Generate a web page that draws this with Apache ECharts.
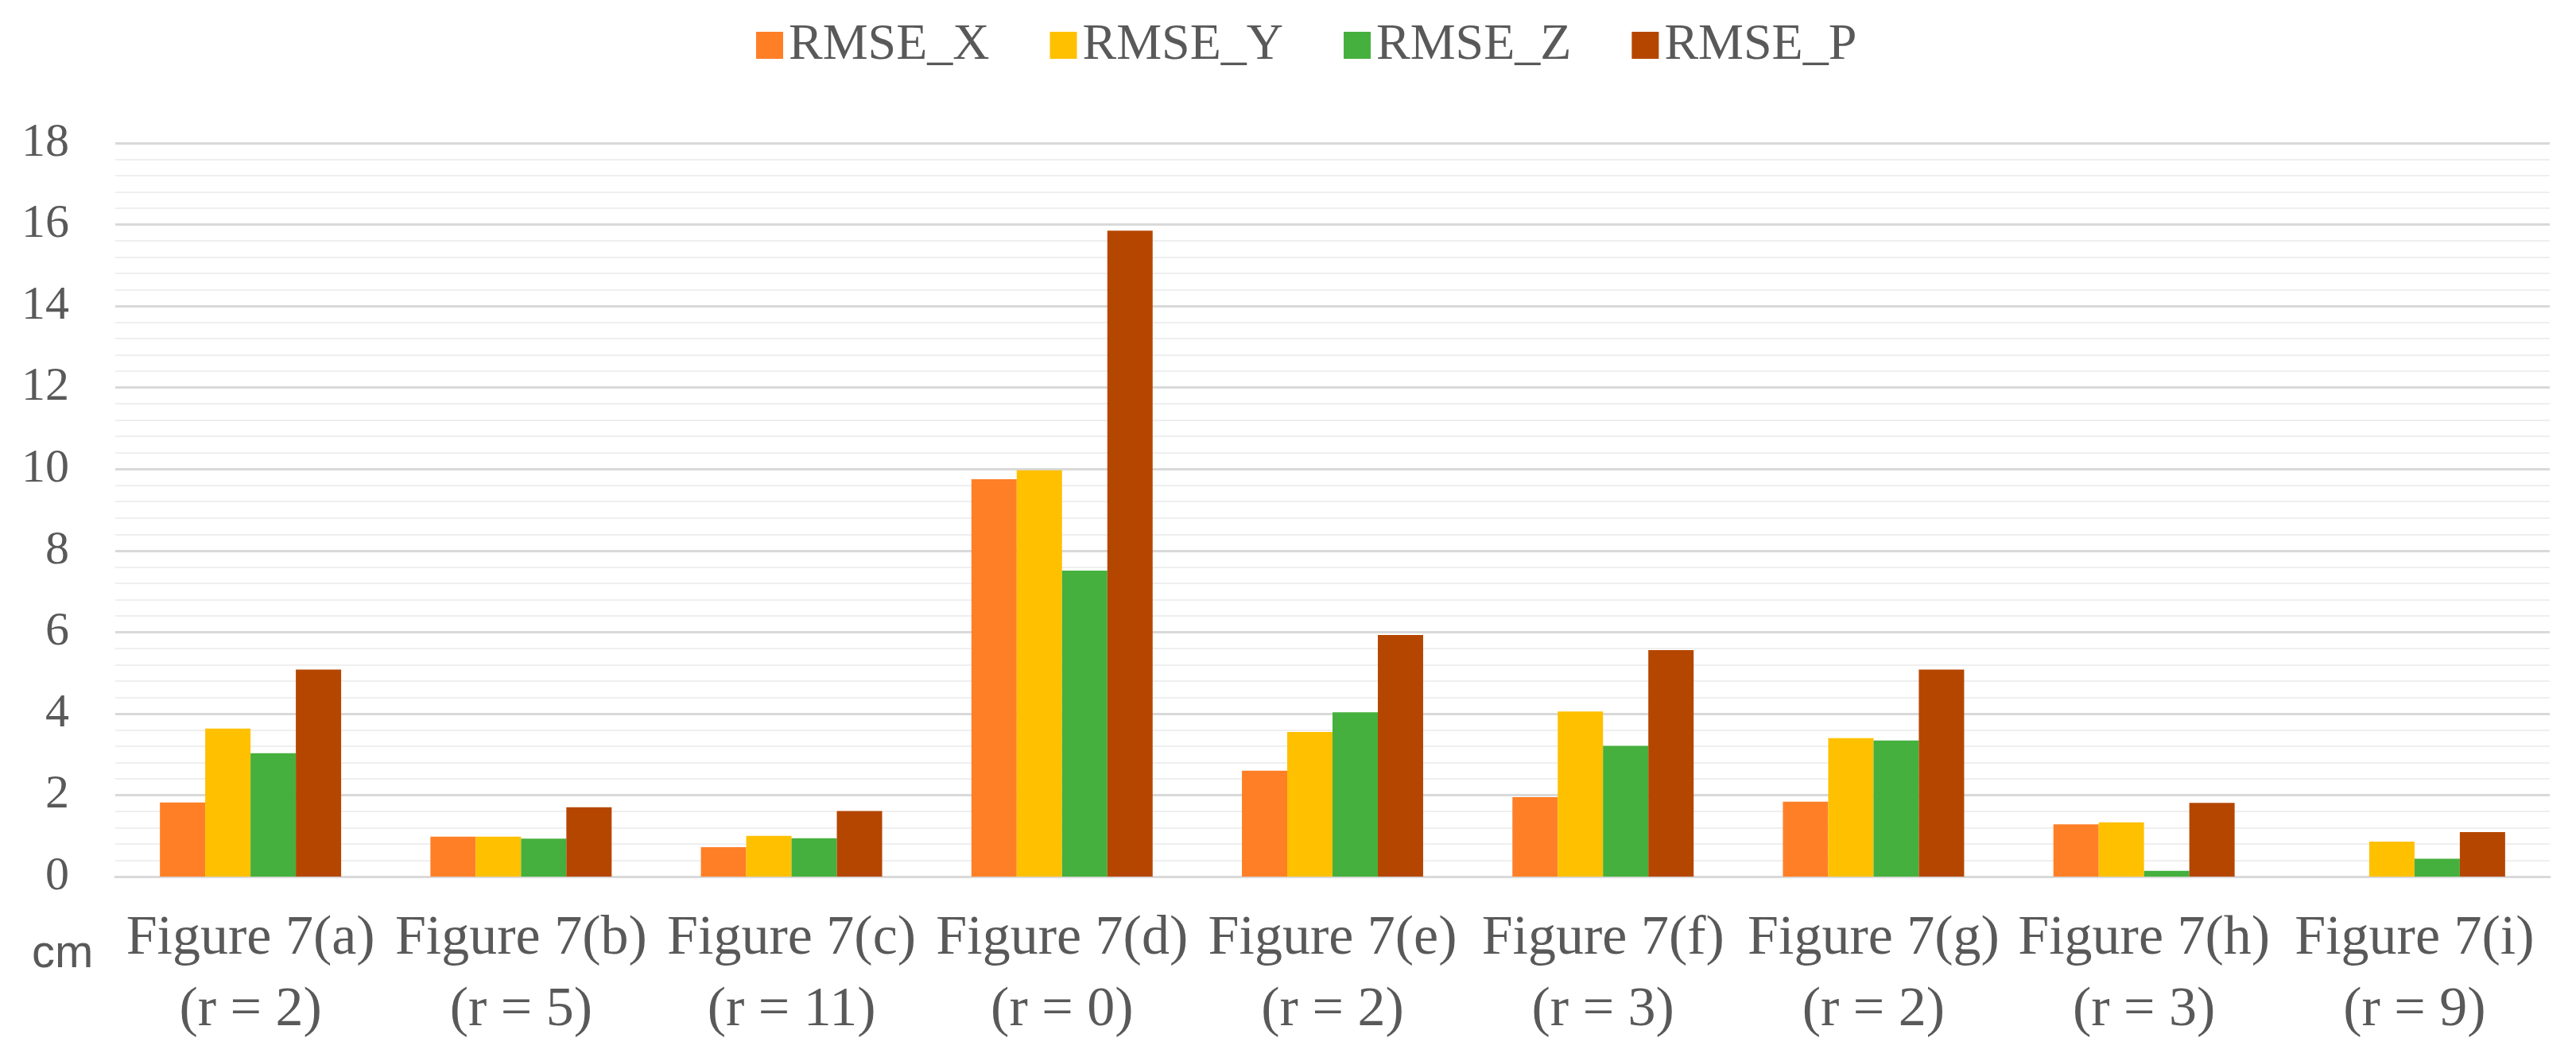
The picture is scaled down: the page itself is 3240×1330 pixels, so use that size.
<!DOCTYPE html>
<html>
<head>
<meta charset="utf-8">
<script src="https://cdn.jsdelivr.net/npm/echarts@6/dist/echarts.min.js"></script>
<style>html,body{margin:0;padding:0;background:#fff;}#c{width:3240px;height:1330px;}</style>
</head>
<body>
<div id="c"></div>
<script>
const categories = [
  'Figure 7(a)\n(r = 2)', 'Figure 7(b)\n(r = 5)', 'Figure 7(c)\n(r = 11)',
  'Figure 7(d)\n(r = 0)', 'Figure 7(e)\n(r = 2)', 'Figure 7(f)\n(r = 3)',
  'Figure 7(g)\n(r = 2)', 'Figure 7(h)\n(r = 3)', 'Figure 7(i)\n(r = 9)'
];
const seriesNames = ['RMSE_X', 'RMSE_Y', 'RMSE_Z', 'RMSE_P'];
const rmseX = [1.82, 0.98, 0.72, 9.75, 2.60, 1.95, 1.84, 1.28, 0];
const rmseY = [3.63, 0.98, 1.00, 9.97, 3.55, 4.05, 3.40, 1.33, 0.86];
const rmseZ = [3.03, 0.93, 0.94, 7.51, 4.03, 3.21, 3.34, 0.14, 0.44];
const rmseP = [5.08, 1.70, 1.61, 15.85, 5.93, 5.56, 5.08, 1.81, 1.09];
const colors = ['#FF7F27', '#FFC000', '#45B03D', '#B54600'];
const yMin = 0, yMax = 18, yInterval = 2;

const chart = echarts.init(document.getElementById('c'), null, {renderer: 'canvas'});
const serif = '"Liberation Serif", "Times New Roman", serif';
const textColor = '#595959';
const values = [rmseX, rmseY, rmseZ, rmseP];

chart.setOption({
  backgroundColor: '#ffffff',
  animation: false,
  color: colors,
  legend: {
    top: 20,
    left: 946,
    itemWidth: 34,
    itemHeight: 34,
    itemGap: 76,
    icon: 'rect',
    textStyle: {fontFamily: serif, fontSize: 64, color: textColor, padding: [0, 0, 0, 2]},
    data: seriesNames
  },
  grid: {left: 145, right: 33, top: 180, bottom: 227, containLabel: false},
  xAxis: {
    type: 'category',
    data: categories,
    axisLine: {show: true, lineStyle: {color: '#D9D9D9', width: 3}},
    axisTick: {show: false},
    axisLabel: {
      interval: 0,
      margin: 34,
      fontFamily: serif,
      fontSize: 70,
      lineHeight: 90,
      color: textColor
    }
  },
  yAxis: {
    type: 'value',
    min: yMin,
    max: yMax,
    interval: yInterval,
    axisLine: {show: false},
    axisTick: {show: false},
    axisLabel: {margin: 58, fontFamily: serif, fontSize: 60, color: textColor},
    splitLine: {show: true, lineStyle: {color: '#D9D9D9', width: 3}},
    minorTick: {show: false, splitNumber: 5},
    minorSplitLine: {show: true, lineStyle: {color: '#EFEFEF', width: 2}}
  },
  graphic: [{
    type: 'text',
    left: 40,
    top: 1172,
    style: {text: 'cm', font: '58px "Liberation Sans", Arial, sans-serif', fill: textColor}
  }],
  series: seriesNames.map((name, i) => ({
    name: name,
    type: 'bar',
    data: values[i],
    barGap: '0%',
    barCategoryGap: '33%',
    itemStyle: {color: colors[i]}
  }))
});
</script>
</body>
</html>
